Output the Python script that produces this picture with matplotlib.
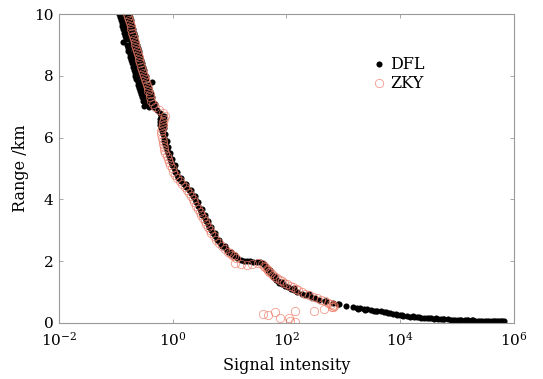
import numpy as np
import matplotlib
matplotlib.use('Agg')
import matplotlib.pyplot as plt

# fuente serif para todo el grafico
plt.rcParams['font.family'] = 'serif'
plt.rcParams['font.serif'] = ['DejaVu Serif']
plt.rcParams['mathtext.fontset'] = 'dejavuserif'

# ---- datos DFL (alcance en km, log10 de la intensidad) ----
dfl_range = [
    10.0, 10.0, 10.0, 9.9, 9.9, 9.9, 9.8, 9.8, 9.8, 9.7, 9.7, 9.7,
    9.6, 9.6, 9.6, 9.5, 9.5, 9.5, 9.4, 9.4, 9.4, 9.3, 9.3, 9.3,
    9.2, 9.2, 9.2, 9.1, 9.1, 9.1, 9.0, 9.0, 9.0, 8.9, 8.9, 8.9,
    8.8, 8.8, 8.8, 8.7, 8.7, 8.7, 8.6, 8.6, 8.6, 8.5, 8.5, 8.5,
    8.4, 8.4, 8.4, 8.3, 8.3, 8.3, 8.2, 8.2, 8.2, 8.1, 8.1, 8.1,
    8.0, 8.0, 8.0, 7.9, 7.9, 7.9, 7.8, 7.8, 7.8, 7.7, 7.7, 7.7,
    7.6, 7.6, 7.6, 7.5, 7.5, 7.5, 7.4, 7.4, 7.4, 7.3, 7.3, 7.3,
    7.2, 7.2, 7.2, 7.1, 7.1, 7.1, 7.0, 7.0, 7.02,
    6.9, 6.8, 6.7, 6.7, 6.6, 6.6, 6.5, 6.5, 6.4, 6.4, 6.3, 6.3,
    6.2, 6.1, 6.0, 5.9, 5.8, 5.7, 5.6, 5.5, 5.4, 5.3, 5.2, 5.1, 5.0,
    4.9, 4.8, 4.7, 4.6, 4.5, 4.4, 4.3, 4.2, 4.1, 4.0,
    3.9, 3.8, 3.7, 3.6, 3.5, 3.4, 3.3, 3.2, 3.1, 3.0,
    2.9, 2.8, 2.7, 2.6, 2.5, 2.4, 2.3, 2.25, 2.2, 2.15, 2.1, 2.05, 2.02, 2.0,
    1.99, 1.98, 1.97, 1.96, 1.95,
    1.90, 1.85, 1.80, 1.75, 1.70, 1.65, 1.60, 1.55, 1.50, 1.45, 1.40, 1.35,
    1.30, 1.25, 1.20, 1.15, 1.10, 1.05, 1.00, 0.95, 0.90, 0.85, 0.80, 0.75,
    0.70, 0.65, 0.60, 0.55,
    0.50, 0.48, 0.47, 0.45, 0.44, 0.42, 0.40, 0.39, 0.37, 0.36, 0.34, 0.31,
    0.29, 0.26, 0.24, 0.23, 0.22, 0.20, 0.19, 0.18, 0.17, 0.165, 0.155, 0.15,
    0.14, 0.135, 0.13, 0.12, 0.115, 0.11, 0.105, 0.10, 0.09, 0.088, 0.085, 0.08,
    0.075, 0.07, 0.068, 0.065, 0.062, 0.06, 0.057, 0.055, 0.052, 0.05,
    # segunda columna de puntos (dispersion de la banda)
    6.1, 5.9, 5.7, 5.5, 5.3, 5.1, 4.9, 4.7, 4.5, 4.3, 4.1, 3.9, 3.7,
    3.5, 3.3, 3.1, 2.9, 2.7, 2.5, 2.3, 2.2,
    1.72, 1.52, 1.32, 1.12, 0.92, 0.72, 0.62,
    0.46, 0.43, 0.38, 0.33, 0.28, 0.25, 0.21, 0.185, 0.16, 0.145, 0.125,
    0.11, 0.095, 0.085, 0.078, 0.072, 0.066, 0.06, 0.056, 0.053,
]
dfl_log = [
    -0.95, -0.86, -0.77, -0.93, -0.85, -0.75, -0.92, -0.83, -0.74, -0.90, -0.82, -0.73,
    -0.89, -0.80, -0.71, -0.87, -0.79, -0.70, -0.86, -0.77, -0.69, -0.85, -0.76, -0.67,
    -0.83, -0.75, -0.66, -0.88, -0.73, -0.64, -0.81, -0.72, -0.63, -0.79, -0.70, -0.61,
    -0.78, -0.69, -0.60, -0.76, -0.68, -0.59, -0.75, -0.66, -0.57, -0.73, -0.65, -0.56,
    -0.72, -0.63, -0.54, -0.70, -0.62, -0.53, -0.69, -0.60, -0.51, -0.67, -0.58, -0.50,
    -0.66, -0.57, -0.48, -0.64, -0.55, -0.47, -0.62, -0.54, -0.37, -0.61, -0.52, -0.43,
    -0.59, -0.50, -0.42, -0.58, -0.49, -0.40, -0.56, -0.47, -0.39, -0.54, -0.46, -0.37,
    -0.52, -0.44, -0.36, -0.47, -0.40, -0.32, -0.42, -0.33, -0.50,
    -0.27, -0.22, -0.21, -0.15, -0.22, -0.16, -0.23, -0.17, -0.22, -0.16, -0.21, -0.15,
    -0.19, -0.18, -0.16, -0.15, -0.14, -0.12, -0.11, -0.09, -0.07, -0.05, -0.03, -0.01, 0.02,
    0.04, 0.07, 0.10, 0.15, 0.19, 0.24, 0.28, 0.32, 0.35, 0.39,
    0.41, 0.44, 0.47, 0.50, 0.52, 0.56, 0.58, 0.62, 0.64, 0.68,
    0.71, 0.75, 0.78, 0.83, 0.87, 0.93, 0.98, 1.02, 1.05, 1.09, 1.13, 1.20, 1.25, 1.30,
    1.36, 1.42, 1.48, 1.53, 1.57,
    1.60, 1.62, 1.64, 1.66, 1.68, 1.70, 1.72, 1.745, 1.77, 1.795, 1.82, 1.845,
    1.87, 1.92, 1.98, 2.03, 2.08, 2.13, 2.19, 2.27, 2.35, 2.43, 2.50, 2.58,
    2.70, 2.82, 2.93, 3.04,
    3.18, 3.24, 3.30, 3.36, 3.42, 3.48, 3.54, 3.60, 3.66, 3.72, 3.76, 3.82,
    3.88, 3.94, 4.00, 4.06, 4.12, 4.18, 4.24, 4.30, 4.36, 4.42, 4.48, 4.54,
    4.60, 4.66, 4.72, 4.78, 4.84, 4.90, 4.96, 5.02, 5.08, 5.14, 5.20, 5.26,
    5.32, 5.38, 5.44, 5.50, 5.56, 5.62, 5.68, 5.74, 5.80, 5.83,
    -0.14, -0.11, -0.08, -0.05, -0.01, 0.03, 0.08, 0.14, 0.23, 0.32, 0.39, 0.45, 0.51,
    0.56, 0.62, 0.68, 0.75, 0.82, 0.92, 1.03, 1.09,
    1.71, 1.79, 1.92, 2.13, 2.39, 2.68, 2.91,
    3.26, 3.39, 3.57, 3.79, 3.93, 4.04, 4.22, 4.33, 4.51, 4.63, 4.75,
    4.93, 5.05, 5.17, 5.29, 5.41, 5.53, 5.65, 5.71, 5.77,
]

# ---- datos ZKY (alcance en km, log10 de la intensidad) ----
zky_range = [
    10.0, 9.9, 9.8, 9.7, 9.6, 9.5, 9.4, 9.3, 9.2, 9.1, 9.0, 8.9,
    8.8, 8.7, 8.6, 8.5, 8.4, 8.3, 8.2, 8.1, 8.0, 7.9, 7.8, 7.7,
    7.6, 7.5, 7.4, 7.3, 7.2, 7.1, 7.0,
    6.9, 6.8, 6.7, 6.6, 6.5, 6.4, 6.3, 6.2, 6.1, 6.0, 5.9, 5.8,
    5.7, 5.6, 5.5, 5.4, 5.3, 5.2, 5.1, 5.0, 4.9, 4.8, 4.7, 4.6,
    4.5, 4.4, 4.3, 4.2, 4.1, 4.0, 3.9, 3.8, 3.7, 3.6, 3.5, 3.4,
    3.3, 3.2, 3.1, 3.0, 2.9, 2.8, 2.7, 2.6, 2.5, 2.4, 2.3, 2.25,
    2.2, 2.15, 2.1, 1.93, 1.90, 1.88, 1.92, 1.95,
    1.90, 1.85, 1.80, 1.75, 1.70, 1.65, 1.60, 1.55, 1.50, 1.45, 1.40, 1.35,
    1.30, 1.25, 1.20, 1.15, 1.10, 1.05, 1.00, 0.95, 0.90, 0.85, 0.80, 0.75,
    0.70, 0.65, 0.62, 0.58, 0.55, 0.50,
    0.29, 0.24, 0.36, 0.16, 0.17, 0.06, 0.37, 0.03, 0.39, 0.45, 0.50,
]
zky_log = [
    -0.80, -0.79, -0.77, -0.76, -0.74, -0.73, -0.72, -0.70, -0.69, -0.67, -0.66, -0.64,
    -0.63, -0.62, -0.60, -0.59, -0.57, -0.56, -0.54, -0.52, -0.51, -0.49, -0.48, -0.46,
    -0.44, -0.43, -0.41, -0.40, -0.38, -0.35, -0.31,
    -0.25, -0.17, -0.14, -0.16, -0.18, -0.18, -0.19, -0.21, -0.20, -0.19, -0.18, -0.17,
    -0.16, -0.15, -0.13, -0.11, -0.09, -0.07, -0.05, -0.02, 0.01, 0.04, 0.07, 0.12,
    0.16, 0.21, 0.25, 0.29, 0.32, 0.35, 0.38, 0.41, 0.44, 0.47, 0.50, 0.53,
    0.56, 0.59, 0.62, 0.65, 0.68, 0.72, 0.76, 0.81, 0.86, 0.92, 0.97, 1.00,
    1.04, 1.08, 1.12, 1.10, 1.20, 1.30, 1.40, 1.50,
    1.57, 1.60, 1.62, 1.65, 1.67, 1.70, 1.72, 1.76, 1.80, 1.84, 1.88, 1.92,
    1.96, 2.01, 2.06, 2.11, 2.16, 2.21, 2.27, 2.33, 2.40, 2.47, 2.54, 2.61,
    2.68, 2.74, 2.78, 2.82, 2.84, 2.82,
    1.58, 1.67, 1.79, 1.88, 2.04, 2.06, 2.15, 2.15, 2.48, 2.67, 2.80,
]

dfl_int = 10.0 ** np.array(dfl_log)
zky_int = 10.0 ** np.array(zky_log)

fig = plt.figure(figsize=(5.43, 3.79), dpi=100)
ax = fig.add_axes([0.109, 0.148, 0.837, 0.815])

ax.plot(dfl_int, dfl_range, 'o', color='black', markersize=4.4,
        markeredgewidth=0, label='DFL')
ax.plot(zky_int, zky_range, 'o', markerfacecolor='none', markeredgecolor='#ec7a66',
        markersize=6, markeredgewidth=0.6, alpha=0.75, label='ZKY')

ax.set_xscale('log')
ax.set_xlim(1e-2, 1e6)
ax.set_ylim(0, 10)
ax.set_xticks([1e-2, 1e0, 1e2, 1e4, 1e6])
ax.set_xticklabels(['$10^{-2}$', '$10^{0}$', '$10^{2}$', '$10^{4}$', '$10^{6}$'])
ax.xaxis.set_minor_locator(matplotlib.ticker.NullLocator())
ax.set_yticks([0, 2, 4, 6, 8, 10])

ax.tick_params(direction='in', length=3, width=0.6, color='#999999',
               labelsize=11, top=True, right=True)
ax.tick_params(axis='x', pad=6)
ax.tick_params(axis='y', pad=4)
for s in ax.spines.values():
    s.set_color('#999999')
    s.set_linewidth(0.8)

ax.set_xlabel('Signal intensity', fontsize=11.5, labelpad=6)
ax.set_ylabel('Range /km', fontsize=11.5, labelpad=4)

ax.legend(loc='upper left', bbox_to_anchor=(0.665, 0.9), frameon=False,
          fontsize=11.5, handlelength=0.8, handletextpad=0.3,
          labelspacing=0.15, borderpad=0.2)

plt.savefig('out.png', dpi=100)
